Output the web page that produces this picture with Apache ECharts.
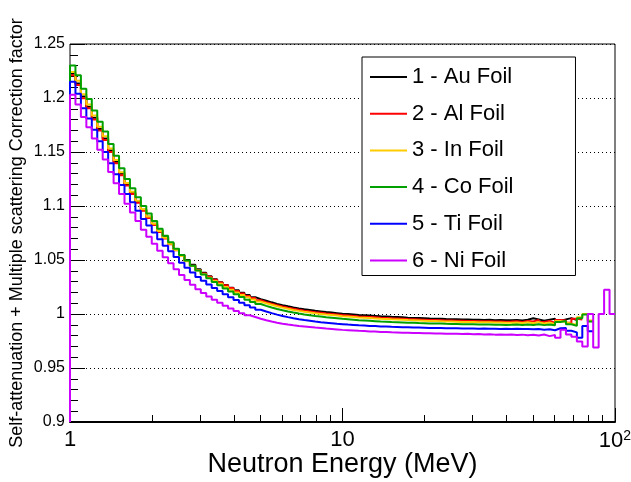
<!DOCTYPE html>
<html>
<head>
<meta charset="utf-8">
<script src="https://cdn.jsdelivr.net/npm/echarts@6/dist/echarts.min.js"></script>
<style>html,body{margin:0;padding:0;background:#fff;}#c{width:631px;height:482px;}</style>
</head>
<body>
<div id="c"></div>
<script>
// Log-binned histogram: 50 bins per decade from 1 MeV to 100 MeV
const binsPerDecade = 50;
const xMin = 1, xMax = 100;
const yMin = 0.9, yMax = 1.25, yInterval = 0.05;
const xMinorTicks = [2,3,4,5,6,7,8,9,20,30,40,50,60,70,80,90];
const xTickLabels = {1:'1', 10:'10', 100:'10{s|2}'};

const seriesNames = ['1 - Au Foil','2 - Al Foil','3 - In Foil','4 - Co Foil','5 - Ti Foil','6 - Ni Foil'];

const au = [1.2225,1.2135,1.2013,1.1920,1.1817,1.1714,1.1626,1.1515,1.1409,1.1298,
1.1202,1.1121,1.1040,1.0965,1.0900,1.0835,1.0770,1.0710,1.0655,1.0600,
1.0547,1.0499,1.0455,1.0415,1.0381,1.0350,1.0321,1.0295,1.0268,1.0242,
1.0219,1.0197,1.0175,1.0156,1.0138,1.0123,1.0108,1.0094,1.0082,1.0071,
1.0061,1.0052,1.0044,1.0037,1.0030,1.0024,1.0018,1.0013,1.0008,1.0003,
0.9999,0.9995,0.9991,0.9988,0.9985,0.9982,0.9979,0.9977,0.9974,0.9972,
0.9970,0.9966,0.9964,0.9962,0.9960,0.9958,0.9957,0.9955,0.9953,0.9952,
0.9951,0.9950,0.9949,0.9947,0.9946,0.9945,0.9946,0.9943,0.9944,0.9942,
0.9942,0.9945,0.9940,0.9947,0.9960,0.9950,0.9938,0.9948,0.9955,0.9935,
0.9950,0.9962,0.9945];

const al = [1.2210,1.2120,1.1997,1.1904,1.1801,1.1698,1.1610,1.1500,1.1395,1.1285,
1.1190,1.1110,1.1030,1.0955,1.0890,1.0825,1.0760,1.0700,1.0645,1.0590,
1.0537,1.0490,1.0447,1.0408,1.0375,1.0345,1.0317,1.0292,1.0266,1.0240,
1.0212,1.0189,1.0167,1.0147,1.0127,1.0110,1.0095,1.0081,1.0069,1.0058,
1.0048,1.0039,1.0031,1.0024,1.0017,1.0011,1.0005,1.0000,0.9995,0.9990,
0.9986,0.9982,0.9978,0.9975,0.9972,0.9969,0.9966,0.9964,0.9961,0.9959,
0.9957,0.9953,0.9951,0.9949,0.9947,0.9945,0.9944,0.9943,0.9940,0.9939,
0.9938,0.9937,0.9936,0.9935,0.9934,0.9933,0.9934,0.9931,0.9931,0.9929,
0.9930,0.9933,0.9927,0.9936,0.9930,0.9945,0.9925,0.9935,0.9920,0.9945,
0.9940,0.9920,0.9955,0.9950];

const inn = [1.2240,1.2160,1.2035,1.1940,1.1837,1.1734,1.1646,1.1533,1.1425,1.1312,
1.1214,1.1131,1.1048,1.0970,1.0903,1.0836,1.0769,1.0707,1.0650,1.0593,
1.0538,1.0489,1.0444,1.0403,1.0368,1.0336,1.0306,1.0279,1.0251,1.0224,
1.0200,1.0177,1.0154,1.0134,1.0115,1.0099,1.0085,1.0071,1.0059,1.0048,
1.0038,1.0029,1.0021,1.0014,1.0007,1.0001,0.9995,0.9990,0.9985,0.9980,
0.9976,0.9972,0.9968,0.9965,0.9962,0.9959,0.9956,0.9954,0.9951,0.9949,
0.9947,0.9944,0.9942,0.9940,0.9938,0.9936,0.9935,0.9933,0.9931,0.9930,
0.9929,0.9927,0.9926,0.9925,0.9924,0.9923,0.9923,0.9921,0.9921,0.9919,
0.9918,0.9921,0.9916,0.9923,0.9915,0.9925,0.9912,0.9922,0.9905,0.9935,
0.9925,0.9910,0.9900,0.9970,1.0000,0.9940];

const co = [1.2300,1.2210,1.2085,1.1990,1.1885,1.1780,1.1690,1.1575,1.1465,1.1350,
1.1250,1.1165,1.1080,1.1000,1.0930,1.0860,1.0790,1.0725,1.0665,1.0605,
1.0547,1.0495,1.0447,1.0403,1.0365,1.0330,1.0297,1.0267,1.0237,1.0208,
1.0182,1.0157,1.0133,1.0112,1.0092,1.0075,1.0060,1.0046,1.0034,1.0023,
1.0013,1.0004,0.9996,0.9989,0.9982,0.9976,0.9970,0.9965,0.9960,0.9955,
0.9951,0.9947,0.9943,0.9940,0.9937,0.9934,0.9931,0.9929,0.9926,0.9924,
0.9922,0.9920,0.9918,0.9916,0.9915,0.9913,0.9912,0.9911,0.9909,0.9908,
0.9907,0.9906,0.9905,0.9904,0.9903,0.9902,0.9903,0.9900,0.9901,0.9899,
0.9900,0.9902,0.9898,0.9903,0.9899,0.9905,0.9897,0.9903,0.9895,0.9925,
0.9935,0.9905,0.9890,0.9960,0.9995,0.9930];

const ti = [1.2150,1.2040,1.1905,1.1810,1.1705,1.1600,1.1500,1.1395,1.1295,1.1195,
1.1112,1.1035,1.0955,1.0880,1.0820,1.0755,1.0692,1.0633,1.0580,1.0527,
1.0475,1.0429,1.0385,1.0343,1.0307,1.0273,1.0241,1.0212,1.0183,1.0155,
1.0129,1.0105,1.0081,1.0060,1.0040,1.0023,1.0008,0.9994,0.9982,0.9971,
0.9961,0.9952,0.9944,0.9937,0.9930,0.9924,0.9920,0.9915,0.9910,0.9906,
0.9902,0.9899,0.9895,0.9893,0.9890,0.9888,0.9885,0.9884,0.9881,0.9880,
0.9878,0.9877,0.9875,0.9874,0.9873,0.9871,0.9871,0.9870,0.9869,0.9868,
0.9867,0.9866,0.9866,0.9865,0.9864,0.9865,0.9863,0.9864,0.9862,0.9863,
0.9861,0.9864,0.9860,0.9862,0.9858,0.9861,0.9855,0.9859,0.9850,0.9868,
0.9870,0.9845,0.9830,0.9780,0.9890,0.9840];

const ni = [1.2030,1.1940,1.1825,1.1730,1.1625,1.1520,1.1430,1.1315,1.1210,1.1110,
1.1020,1.0940,1.0860,1.0780,1.0715,1.0650,1.0585,1.0525,1.0470,1.0415,
1.0362,1.0315,1.0270,1.0230,1.0195,1.0162,1.0132,1.0105,1.0077,1.0051,
1.0028,1.0007,0.9988,0.9972,0.9956,0.9942,0.9930,0.9919,0.9910,0.9902,
0.9895,0.9889,0.9884,0.9879,0.9874,0.9870,0.9865,0.9861,0.9857,0.9853,
0.9850,0.9847,0.9844,0.9842,0.9839,0.9837,0.9834,0.9833,0.9830,0.9829,
0.9827,0.9826,0.9824,0.9823,0.9822,0.9821,0.9820,0.9819,0.9818,0.9817,
0.9816,0.9815,0.9816,0.9813,0.9814,0.9811,0.9813,0.9809,0.9811,0.9808,
0.9810,0.9806,0.9809,0.9804,0.9808,0.9800,0.9810,0.9795,0.9805,0.9780,
0.9855,0.9810,0.9790,0.9745,0.9700,1.0000,0.9690,1.0000,1.0225,1.0000];

const colors = ['#000000','#ff0000','#ffcc00','#00a000','#0000ff','#cc00ff'];
const allValues = [au, al, inn, co, ti, ni];

function edge(i){ return Math.pow(10, i / binsPerDecade); }
function histPoints(vals){
  const pts = [[xMin, yMin]];
  vals.forEach((v, i) => pts.push([edge(i), v]));
  pts.push([edge(vals.length), vals[vals.length - 1]]);
  return pts;
}

const FONT = 'Liberation Sans, Arial, Helvetica, sans-serif';
const chart = echarts.init(document.getElementById('c'), null, {renderer:'canvas'});

chart.setOption({
  backgroundColor:'#fff',
  animation:false,
  textStyle:{fontFamily:FONT, color:'#000'},
  grid:{left:70, right:16, top:44, bottom:60, show:true, borderColor:'#000', borderWidth:1,
        backgroundColor:'transparent', outerBoundsMode:'none', containLabel:false},
  legend:{
    orient:'vertical', left:362, top:57,
    data: seriesNames,
    icon:'rect', itemWidth:37, itemHeight:2, itemGap:14.7,
    padding:[9,62,4,8],
    borderColor:'#000', borderWidth:1, backgroundColor:'#fff',
    textStyle:{fontSize:22, fontFamily:FONT, color:'#000', lineHeight:22},
    z:20
  },
  xAxis:[
    {
      type:'log', logBase:10, min:xMin, max:xMax, position:'bottom', z:1,
      axisLine:{show:true, onZero:false, lineStyle:{color:'#000', width:2}},
      axisTick:{show:true, inside:true, length:14, lineStyle:{color:'#000', width:1}},
      axisLabel:{
        fontSize:22, fontFamily:FONT, color:'#000', margin:7,
        formatter:function(v){ return xTickLabels[Math.round(v)] || String(v); },
        rich:{ s:{fontSize:14, fontFamily:FONT, color:'#000', verticalAlign:'top', padding:[0,0,10,0]} }
      },
      splitLine:{show:false},
      name:'Neutron Energy (MeV)', nameLocation:'middle', nameGap:29, nameMoveOverlap:false,
      nameTextStyle:{fontSize:27, fontFamily:FONT, color:'#000', verticalAlign:'top'}
    },
    {
      type:'log', logBase:10, min:xMin, max:xMax, position:'bottom', z:1,
      axisLine:{show:false},
      axisTick:{show:true, inside:true, length:7, customValues:xMinorTicks, lineStyle:{color:'#000', width:1}},
      axisLabel:{show:false},
      splitLine:{show:false}
    }
  ],
  yAxis:{
    type:'value', min:yMin, max:yMax, interval:yInterval, z:1,
    axisLine:{show:false, onZero:false},
    axisTick:{show:true, inside:true, length:15, lineStyle:{color:'#000'}},
    minorTick:{show:true, splitNumber:5, length:8, lineStyle:{color:'#000'}},
    axisLabel:{fontSize:16, fontFamily:FONT, color:'#000', margin:5},
    splitLine:{show:true, lineStyle:{color:'#000', width:1, type:[1,3]}},
    name:'Self-attenuation + Multiple scattering Correction factor',
    nameLocation:'middle', nameGap:44, nameMoveOverlap:false,
    nameTextStyle:{fontSize:18, fontFamily:FONT, color:'#000'}
  },
  series: allValues.map((vals, k) => ({
    name: seriesNames[k], type:'line', step:'end', xAxisIndex:0, z:10,
    data: histPoints(vals), symbol:'none', showSymbol:false,
    lineStyle:{color:colors[k], width:2}, itemStyle:{color:colors[k]},
    clip:false
  }))
});
</script>
</body>
</html>
